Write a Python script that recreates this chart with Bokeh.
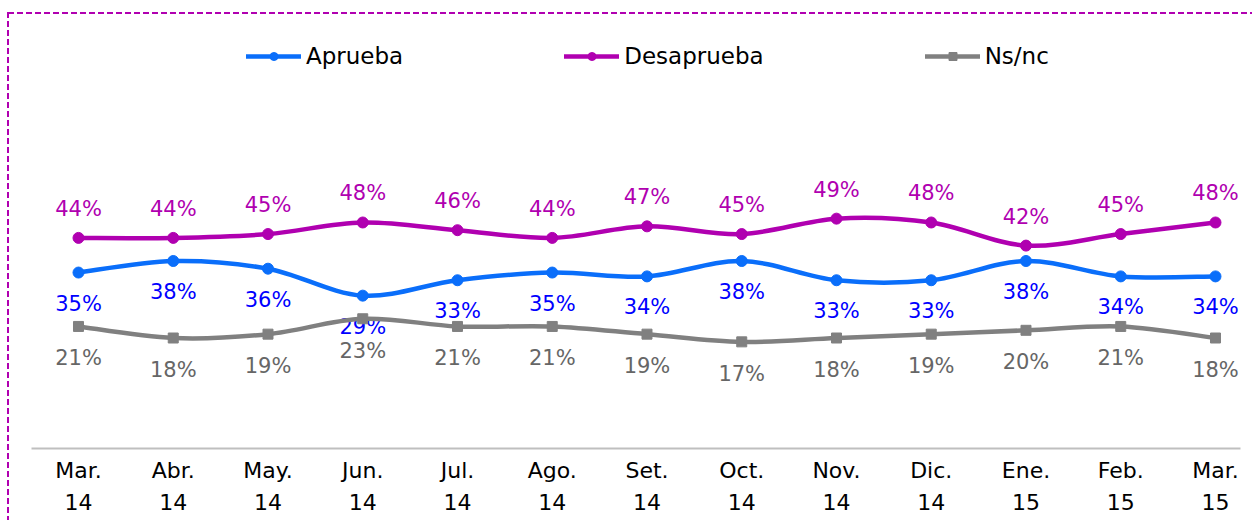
from bokeh.plotting import figure
from bokeh.models import Range1d, FixedTicker, LinearAxis, Legend, LegendItem, ColumnDataSource
from bokeh.core.properties import value
from bokeh.embed import file_html
from bokeh.resources import INLINE

# ---- data ----
months = ["Mar.", "Abr.", "May.", "Jun.", "Jul.", "Ago.", "Set.", "Oct.", "Nov.", "Dic.", "Ene.", "Feb.", "Mar."]
years = ["14", "14", "14", "14", "14", "14", "14", "14", "14", "14", "15", "15", "15"]
aprueba = [35, 38, 36, 29, 33, 35, 34, 38, 33, 33, 38, 34, 34]
desaprueba = [44, 44, 45, 48, 46, 44, 47, 45, 49, 48, 42, 45, 48]
nsnc = [21, 18, 19, 23, 21, 21, 19, 17, 18, 19, 20, 21, 18]

FONT = "DejaVu Sans"
xs = list(range(len(months)))

p = figure(width=1252, height=520, output_backend="svg", toolbar_location=None,
           x_range=Range1d(-0.496, 12.264), y_range=Range1d(-10.7, 105.66),
           y_axis_location=None, min_border_left=31, min_border_right=12,
           min_border_top=0, min_border_bottom=72)
p.border_fill_color = None
p.background_fill_color = None
p.outline_line_color = None
p.xgrid.visible = False
p.ygrid.visible = False
p.styles = {
    "background-image": "repeating-linear-gradient(to right, #B000B0 0px, #B000B0 6px, transparent 6px, transparent 9px), "
                        "repeating-linear-gradient(to bottom, #B000B0 0px, #B000B0 6px, transparent 6px, transparent 9px)",
    "background-size": "100% 2px, 2px 100%",
    "background-position": "8px 12px, 7px 12px",
    "background-repeat": "no-repeat",
}

ticker = FixedTicker(ticks=xs)
ax = p.xaxis[0]
ax.ticker = ticker
ax.major_label_overrides = {i: m for i, m in enumerate(months)}
ax.axis_line_color = "#BFBFBF"
ax.axis_line_width = 2
ax.major_tick_line_color = None
ax.minor_tick_line_color = None
ax.major_label_standoff = 3
ax.major_label_text_font = FONT
ax.major_label_text_font_size = "22px"
ax.major_label_text_color = "#000000"

ax2 = LinearAxis(ticker=ticker, major_label_overrides={i: y for i, y in enumerate(years)})
ax2.axis_line_color = None
ax2.major_tick_line_color = None
ax2.minor_tick_line_color = None
ax2.major_label_standoff = 2
ax2.major_label_text_font = FONT
ax2.major_label_text_font_size = "22px"
ax2.major_label_text_color = "#000000"
p.add_layout(ax2, "below")


def smooth(ys):
    n = len(ys)
    d = dict(x0=[], y0=[], x1=[], y1=[], cx0=[], cy0=[], cx1=[], cy1=[])
    for i in range(n - 1):
        pm = i - 1 if i > 0 else i
        pp = i + 2 if i + 2 < n else i + 1
        d["x0"].append(xs[i]); d["y0"].append(ys[i])
        d["x1"].append(xs[i + 1]); d["y1"].append(ys[i + 1])
        d["cx0"].append(xs[i] + (xs[i + 1] - xs[pm]) / 6.0)
        d["cy0"].append(ys[i] + (ys[i + 1] - ys[pm]) / 6.0)
        d["cx1"].append(xs[i + 1] - (xs[pp] - xs[i]) / 6.0)
        d["cy1"].append(ys[i + 1] - (ys[pp] - ys[i]) / 6.0)
    return ColumnDataSource(d)


series = [
    ("Aprueba", aprueba, "#0A6EFA", "#0000FF", "circle", 11, 31),
    ("Desaprueba", desaprueba, "#B000B0", "#B000B0", "circle", 11, -29),
    ("Ns/nc", nsnc, "#808080", "#666666", "square", 10, 32),
]

items = []
for name, vals, lc, tc, mk, ms, dy in series:
    r1 = p.bezier(x0="x0", y0="y0", x1="x1", y1="y1", cx0="cx0", cy0="cy0", cx1="cx1", cy1="cy1",
                  source=smooth(vals), line_color=lc, line_width=4.5, line_cap="round")
    src = ColumnDataSource(dict(x=xs, y=vals, t=["%d%%" % v for v in vals]))
    r2 = p.scatter("x", "y", source=src, marker=mk, size=ms, fill_color=lc, line_color=lc)
    p.text("x", "y", text="t", source=src, y_offset=dy, text_align="center", text_baseline="middle",
           text_font=value(FONT), text_font_size="21px", text_color=tc)
    items.append(LegendItem(label=name, renderers=[r1, r2]))

legend = Legend(items=items, orientation="horizontal", location=(215, 379),
                glyph_width=55, glyph_height=20, label_standoff=5, spacing=161,
                padding=0, margin=0, border_line_color=None, background_fill_alpha=0,
                label_text_font=FONT, label_text_font_size="23px", label_text_color="#000000")
p.add_layout(legend)

open("out.html", "w").write(file_html(p, INLINE))
